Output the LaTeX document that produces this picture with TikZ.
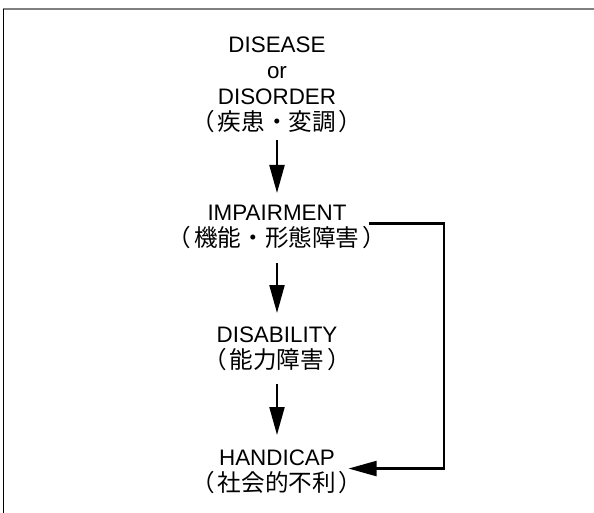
\documentclass[tikz,border=0pt]{standalone}
\usepackage{fontspec}
\setmainfont{Liberation Sans}
\newfontfamily\cjk{Noto Sans CJK JP}
\usetikzlibrary{arrows.meta}
\newcommand\jp[1]{{\cjk\fontsize{11.8}{13}\selectfont （\hspace{0.12em}#1\hspace{0.12em}）}}
\begin{document}
\begin{tikzpicture}[x=0.5pt, y=-0.5pt, line width=1.1pt, line join=miter, >={Triangle[length=14pt,width=7.5pt]},
  lbl/.style={align=center, inner sep=0pt, font=\fontsize{11.2}{13}\selectfont}]
\useasboundingbox (0,0) rectangle (594,513);
\draw[black!50, line width=1pt] (3,9) -- (594,9);
\draw[line width=0.5pt] (3.5,9) -- (3.5,513);
\node[lbl, anchor=north] (dis) at (277,36) {DISEASE\\or\\DISORDER\\\jp{疾患・変調}};
\node[lbl, anchor=north] (imp) at (277,204) {IMPAIRMENT\\\jp{機能・形態障害}};
\node[lbl, anchor=north] (dsb) at (277,326) {DISABILITY\\\jp{能力障害}};
\node[lbl, anchor=north] (hcp) at (277,449) {HANDICAP\\\jp{社会的不利}};
\draw[->, shorten <=3pt, shorten >=5.5pt] (dis) -- (imp);
\draw[->, shorten <=6.5pt, shorten >=6.5pt] (imp) -- (dsb);
\draw[->, shorten <=6pt, shorten >=7pt] (dsb) -- (hcp);
\draw[->] ([xshift=-9pt,yshift=1.75pt]imp.east) -- ++(75,0) |- ([xshift=-7.5pt,yshift=1.75pt]hcp.east);
\end{tikzpicture}
\end{document}
